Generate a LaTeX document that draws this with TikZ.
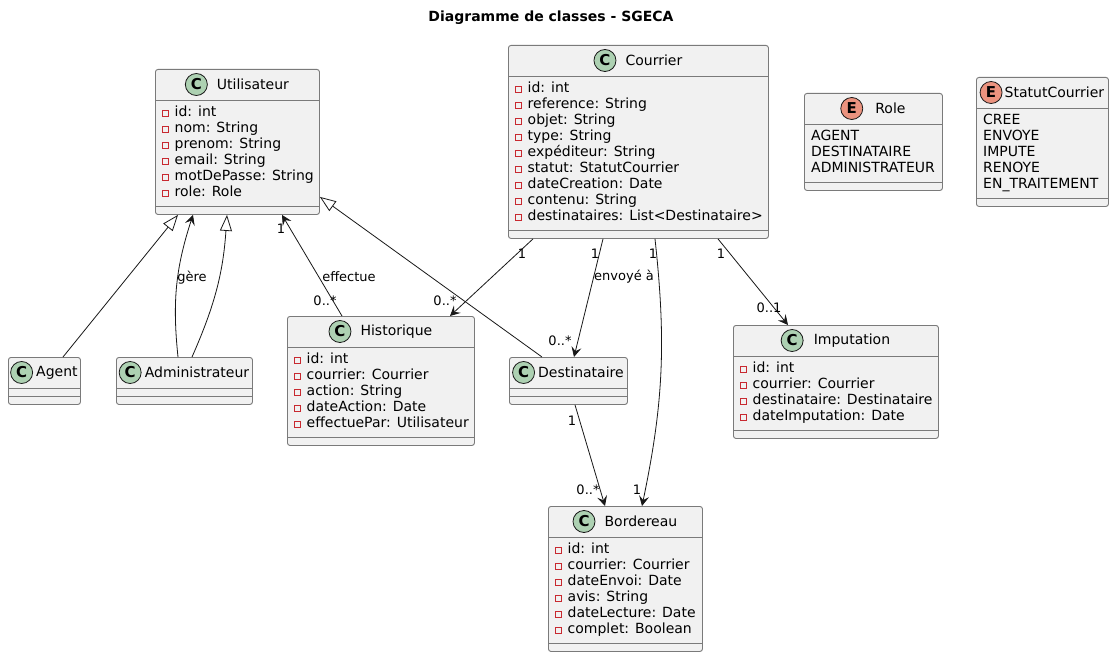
\documentclass[tikz,border=0pt]{standalone}
\usepackage{fontspec}
\setmainfont{DejaVu Sans}
\usetikzlibrary{arrows.meta, positioning}

\definecolor{boxfill}{HTML}{F1F1F1}
\definecolor{boxline}{HTML}{7A7A7A}
\definecolor{inkline}{HTML}{181818}
\definecolor{clsgreen}{HTML}{ADD1B2}
\definecolor{enumred}{HTML}{EB937F}
\definecolor{privred}{HTML}{C82930}

% private member mark
\newcommand{\priv}{{\color{privred}\setlength{\fboxsep}{0pt}\setlength{\fboxrule}{0.8pt}\raisebox{0.5pt}{\fbox{\rule{5.4pt}{0pt}\rule{0pt}{5.4pt}}}}\hspace{5.5pt}}

% [gap] name, top-left, width, body height, letter, title, members
\newcommand{\umlclass}[8][9]{%
  \node[classbox, minimum width=#4, minimum height={39+#5}] (#2) at #3 {};
  \draw[sepline] ([yshift=-31pt]#2.north west) -- ([yshift=-31pt]#2.north east);
  \draw[sepline] ([yshift=8pt]#2.south west) -- ([yshift=8pt]#2.south east);
  \node[headtext, xshift={(22+#1)/2}] (#2-t) at ([yshift=-15.5pt]#2.north) {#7};
  \node[icon#6, left=#1pt of #2-t] (#2-i) {#6};
  \node[members] (#2-m) at ([shift={(7pt,-37pt)}]#2.north west) {#8};
}

\begin{document}
\begin{tikzpicture}[
    x=1pt, y=1pt,
    every node/.style={font=\fontsize{14}{16}\selectfont},
    classbox/.style={draw=boxline, fill=boxfill, line width=0.9pt, rounded corners=2.5pt, anchor=north west, inner sep=0pt},
    sepline/.style={draw=boxline, line width=0.9pt},
    headtext/.style={inner sep=0pt},
    members/.style={anchor=north west, inner sep=0pt, align=left},
    iconC/.style={circle, draw=inkline, fill=clsgreen, line width=0.8pt, minimum size=22pt, inner sep=0pt, font=\fontsize{15}{15}\selectfont\bfseries},
    iconE/.style={iconC, fill=enumred},
    mult/.style={inner sep=0pt, font=\fontsize{13}{15}\selectfont},
    assoc/.style={-{Stealth[length=10pt, width=10pt, inset=4pt]}, draw=inkline, line width=0.8pt},
    inherit/.style={-{Triangle[open, length=16pt, width=12pt, fill=white]}, draw=inkline, line width=0.8pt},
]

% page
\fill[white] (0,0) rectangle (1114,-658);
\node[font=\fontsize{14}{16}\selectfont\bfseries] (title) at (551,-18) {Diagramme de classes - SGECA};

% Classes
\umlclass{util}{(155,-69)}{164}{106}{C}{Utilisateur}{\priv id: int\\\priv nom: String\\\priv prenom: String\\\priv email: String\\\priv motDePasse: String\\\priv role: Role}
\umlclass{courrier}{(508,-45)}{260}{154}{C}{Courrier}{\priv id: int\\\priv reference: String\\\priv objet: String\\\priv type: String\\\priv expéditeur: String\\\priv statut: StatutCourrier\\\priv dateCreation: Date\\\priv contenu: String\\\priv destinataires: List<Destinataire>}
\umlclass[12]{role}{(804,-93)}{138}{58}{E}{Role}{AGENT\\DESTINATAIRE\\ADMINISTRATEUR}
\umlclass[2]{statut}{(976,-77)}{132}{90}{E}{StatutCourrier}{CREE\\ENVOYE\\IMPUTE\\RENOYE\\EN\_TRAITEMENT}
\umlclass[3]{agent}{(8,-357)}{72}{8}{C}{Agent}{}
\umlclass[3]{admin}{(116,-357)}{136}{8}{C}{Administrateur}{}
\umlclass{hist}{(287,-316)}{187}{90}{C}{Historique}{\priv id: int\\\priv courrier: Courrier\\\priv action: String\\\priv dateAction: Date\\\priv effectuePar: Utilisateur}
\umlclass[3]{dest}{(509,-357)}{118}{8}{C}{Destinataire}{}
\umlclass[10]{imput}{(733,-325)}{205}{74}{C}{Imputation}{\priv id: int\\\priv courrier: Courrier\\\priv destinataire: Destinataire\\\priv dateImputation: Date}
\umlclass{bord}{(548,-506)}{154}{106}{C}{Bordereau}{\priv id: int\\\priv courrier: Courrier\\\priv dateEnvoi: Date\\\priv avis: String\\\priv dateLecture: Date\\\priv complet: Boolean}

% Inheritance
\draw[inherit] ([xshift=55pt]agent.north west) -- ([xshift=23pt]util.south west);
\draw[inherit] ([xshift=76pt]admin.north west) to[bend right=10] ([xshift=72pt]util.south west);
\draw[inherit] ([xshift=33pt]dest.north west) -- ([yshift=18pt]util.south east);

% Associations
\draw[assoc] ([xshift=62pt]admin.north west) to[bend left=12] ([xshift=38pt]util.south west);
\node[mult] (gere) at (192,-278) {gère};

\draw[assoc] ([xshift=55pt]hist.north west) -- ([xshift=127pt]util.south west);
\node[mult] (eff-1) at (281,-229) {1};
\node[mult] (eff-n) at (325,-301) {0..*};
\node[mult] (eff) at (349,-277) {effectue};

\draw[assoc] ([xshift=25pt]courrier.south west) -- ([xshift=163pt]hist.north west);
\draw[assoc] ([xshift=95pt]courrier.south west) -- ([xshift=65pt]dest.north west);
\draw[assoc] ([xshift=147pt]courrier.south west) to[bend left=9] ([xshift=94pt]bord.north west);
\draw[assoc] ([xshift=210pt]courrier.south west) -- ([xshift=55pt]imput.north west);
\draw[assoc] ([xshift=66pt]dest.south west) -- ([xshift=57pt]bord.north west);

% Multiplicities
\foreach \x/\n in {522/a, 595/b, 653/c, 721/d} {
    \node[mult] (one-\n) at (\x,-254) {1};
}
\node[mult] (hist-n) at (445,-301) {0..*};
\node[mult] (envoi) at (624,-277) {envoyé à};
\node[mult] (dest-n) at (560,-341) {0..*};
\node[mult] (bord-1) at (637,-490) {1};
\node[mult] (imput-n) at (769,-308) {0..1};
\node[mult] (dest-1) at (572,-421) {1};
\node[mult] (bord-n) at (588,-490) {0..*};

\end{tikzpicture}
\end{document}
